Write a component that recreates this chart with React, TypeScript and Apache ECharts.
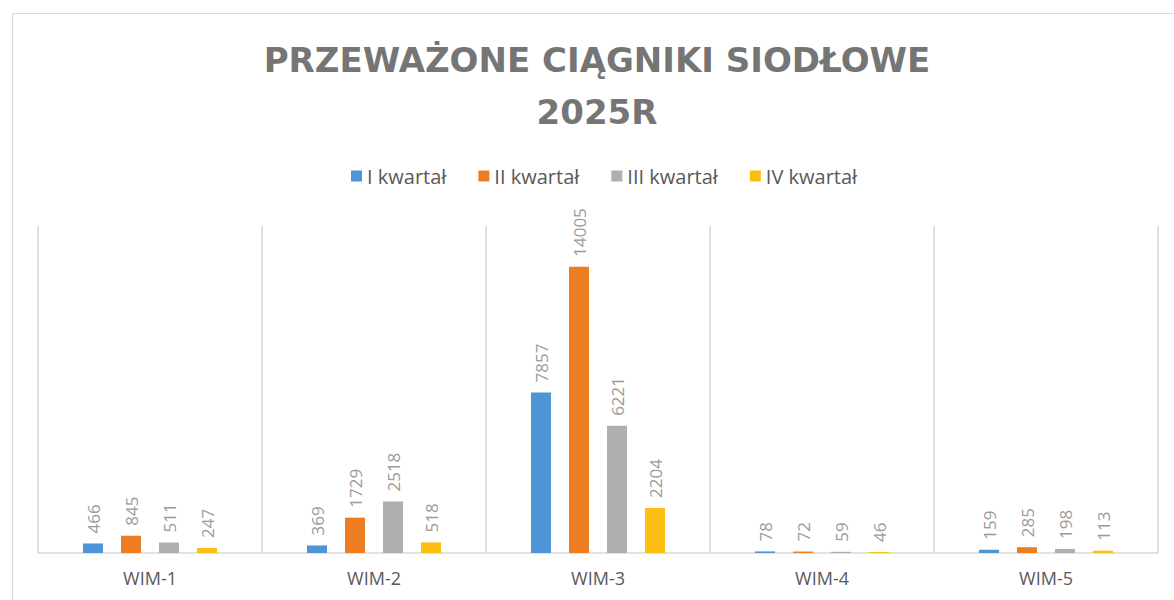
import React, { useEffect, useRef } from "react";
import * as echarts from "echarts";

const titleText = "PRZEWAŻONE CIĄGNIKI SIODŁOWE\n2025R";
const categories = ["WIM-1", "WIM-2", "WIM-3", "WIM-4", "WIM-5"];
const seriesNames = ["I kwartał", "II kwartał", "III kwartał", "IV kwartał"];
const q1 = [466, 369, 7857, 78, 159];
const q2 = [845, 1729, 14005, 72, 285];
const q3 = [511, 2518, 6221, 59, 198];
const q4 = [247, 518, 2204, 46, 113];
const colors = ["#4E95D5", "#ED7D22", "#AFAFB2", "#FBBF14"];

export default function App() {
  const ref = useRef<HTMLDivElement>(null);
  useEffect(() => {
    if (!ref.current) return;
    const chart = echarts.init(ref.current, null, { renderer: "svg" });
    const values = [q1, q2, q3, q4];
    chart.setOption({
      animation: false,
      backgroundColor: "#ffffff",
      color: colors,
      legend: {
        top: 161,
        left: 346,
        itemWidth: 11,
        itemHeight: 11,
        itemGap: 32,
        icon: "rect",
        textStyle: { fontFamily: "Open Sans", fontSize: 20, color: "#595959" },
        data: seriesNames,
      },
      graphic: [
        {
          type: "rect",
          shape: { x: 12.5, y: 13.5, width: 1180, height: 600 },
          style: { fill: "none", stroke: "#d9d9d9", lineWidth: 1 },
          silent: true,
        },
        {
          type: "text",
          x: 597,
          y: 34,
          silent: true,
          style: {
            text: titleText,
            textAlign: "center",
            textVerticalAlign: "top",
            fontFamily: "DejaVu Sans",
            fontWeight: "bold",
            fontSize: 34,
            lineHeight: 52,
            fill: "#757575",
          },
        },
      ],
      grid: { left: 38, right: 16, top: 226, bottom: 47 },
      xAxis: {
        type: "category",
        data: categories,
        axisLine: { show: true, lineStyle: { color: "#d9d9d9", width: 1.5 } },
        axisTick: { show: false },
        splitLine: { show: true, lineStyle: { color: "#d9d9d9", width: 1.5 } },
        axisLabel: {
          fontFamily: "Open Sans",
          fontSize: 18,
          color: "#595959",
          margin: 16,
        },
      },
      yAxis: {
        type: "value",
        min: 0,
        max: 16000,
        show: false,
        splitLine: { show: false },
      },
      series: seriesNames.map((name, i) => ({
        name,
        type: "bar",
        data: values[i],
        barWidth: 20,
        barGap: "90%",
        label: {
          show: true,
          position: "top",
          rotate: 90,
          align: "left",
          verticalAlign: "middle",
          distance: 10,
          fontFamily: "Open Sans",
          fontSize: 17,
          color: "#9b9b9b",
        },
      })),
    });
    return () => chart.dispose();
  }, []);
  return (
    <div
      ref={ref}
      style={{ position: "fixed", left: 0, top: 0, width: 1174, height: 600 }}
    />
  );
}
